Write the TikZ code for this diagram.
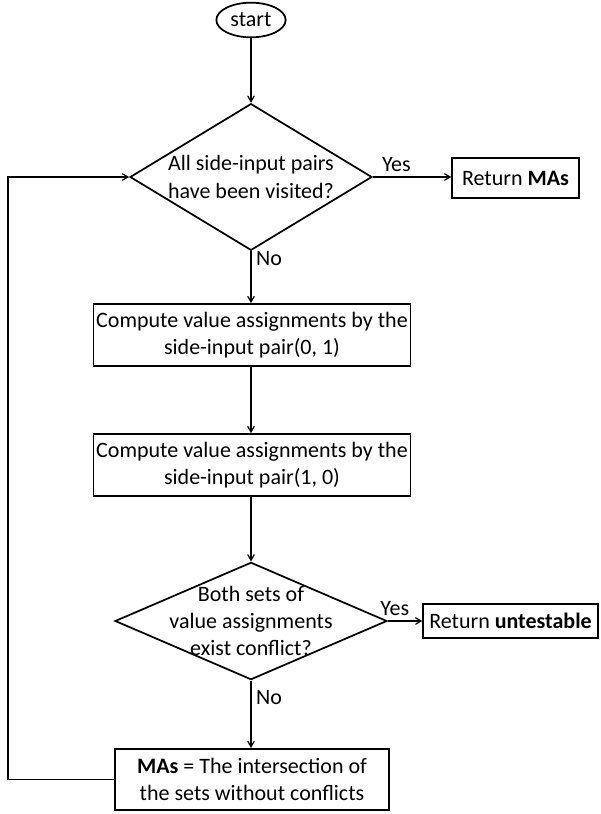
\documentclass[tikz,border=0pt]{standalone}
\usepackage{fontspec}
\setmainfont{Carlito}
\usetikzlibrary{arrows,shapes.geometric}

\tikzset{
    base/.style={draw, line width=1.3pt, inner xsep=2pt, inner ysep=0pt, align=center},
    process/.style={base, rectangle},
    decision/.style={base, diamond, inner sep=0pt},
    terminal/.style={base, ellipse, inner sep=0pt},
    flow/.style={->, >=angle 60, line width=0.9pt},
}

\begin{document}
\begin{tikzpicture}[x=0.75pt, y=-0.75pt, font=\fontsize{16.5}{20.5}\selectfont]
    \useasboundingbox (0,0) rectangle (600,814);

    % 结点
    \node[terminal, minimum width=52pt, minimum height=26pt] (start) at (251,20) {start};
    \node[decision, minimum width=181.5pt, minimum height=110pt] (visited) at (251,177) {};
    \node[align=center] (visitedtext) at (251,177) {All side-input pairs\\have been visited?};
    \node[process, minimum width=95pt, minimum height=30pt] (retma) at (515.5,178) {Return \textbf{MAs}};
    \node[process, minimum width=217.5pt, minimum height=46.5pt] (pairA) at (252,335)
        {Compute value assignments by the\\side-input pair(0, 1)};
    \node[process, minimum width=217.5pt, minimum height=46.5pt] (pairB) at (252,465)
        {Compute value assignments by the\\side-input pair(1, 0)};
    \node[decision, minimum width=204pt, minimum height=88pt] (conflict) at (251,621) {};
    \node[align=center] (conflicttext) at (251,621) {Both sets of\\value assignments\\exist conflict?};
    \node[process, minimum width=131pt, minimum height=25.5pt] (retun) at (510.5,621) {Return \textbf{untestable}};
    \node[process, minimum width=206pt, minimum height=46pt] (inter) at (252,779.5)
        {\textbf{MAs} = The intersection of\\the sets without conflicts};
    \coordinate (loop) at (8,779.5);

    % 连线
    \draw[flow] (start) -- (visited);
    \draw[flow] (visited.east) -- node[above, pos=0.3] {Yes} (visited.east -| retma.west);
    \draw[flow] (visited.south) -- node[right, pos=0.15] {No} (visited.south |- pairA.north);
    \draw[flow] (visited.south |- pairA.south) -- (visited.south |- pairB.north);
    \draw[flow] (visited.south |- pairB.south) -- (conflict.north);
    \draw[flow] (conflict.east) -- node[above, pos=0.2] {Yes} (retun.west);
    \draw[flow] (conflict.south) -- node[right, pos=0.25] {No} (conflict.south |- inter.north);
    \draw[flow] (inter.west) -- (loop) |- (visited.west);

\end{tikzpicture}
\end{document}
